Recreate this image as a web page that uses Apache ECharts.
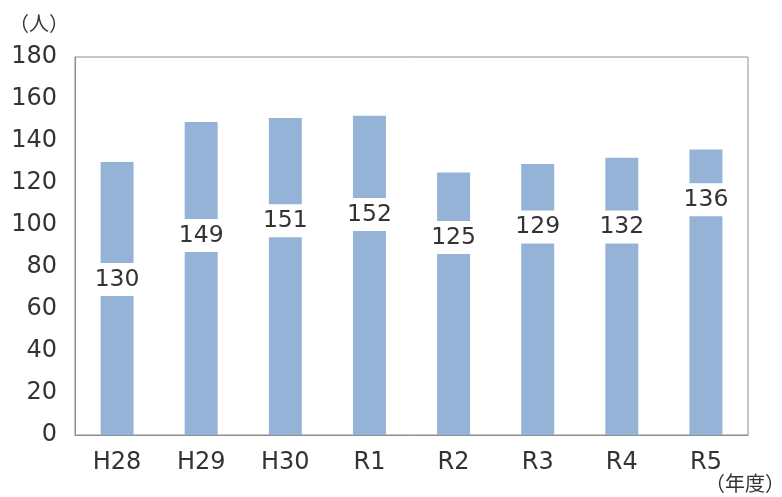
<!DOCTYPE html>
<html>
<head>
<meta charset="utf-8">
<script src="https://cdn.jsdelivr.net/npm/echarts@6/dist/echarts.min.js"></script>
<style>html,body{margin:0;padding:0;background:#fff}#c{width:782px;height:497px}</style>
</head>
<body>
<div id="c"></div>
<script>
const categories = ['H28', 'H29', 'H30', 'R1', 'R2', 'R3', 'R4', 'R5'];
const totals = [130, 149, 151, 152, 125, 129, 132, 136];
const lowerPart = [74, 95, 102, 105, 94, 99, 99, 112];
const upperPart = totals.map((t, i) => t - lowerPart[i]);
const yTicks = { min: 0, max: 180, interval: 20 };

const chart = echarts.init(document.getElementById('c'));
const barColor = '#95b3d7';
const font = 'DejaVu Sans';
chart.setOption({
  animation: false,
  grid: { left: 75, right: 34, top: 57, bottom: 62, show: true, borderColor: '#8e8e8e', borderWidth: 1, backgroundColor: 'transparent' },
  xAxis: {
    type: 'category', data: categories,
    axisLine: { show: true, lineStyle: { color: '#8e8e8e' } },
    axisTick: { show: false },
    axisLabel: { fontFamily: font, fontSize: 24, color: '#333', margin: 16 }
  },
  yAxis: {
    type: 'value', min: yTicks.min, max: yTicks.max, interval: yTicks.interval,
    splitLine: { show: false },
    axisLine: { show: true, lineStyle: { color: '#8e8e8e' } },
    axisTick: { show: false },
    axisLabel: { fontFamily: font, fontSize: 24, color: '#333', margin: 18 }
  },
  series: [
    { type: 'bar', stack: 'a', data: lowerPart, barWidth: 33, itemStyle: { color: barColor }, silent: true },
    { type: 'bar', stack: 'a', data: upperPart, barWidth: 33, itemStyle: { color: barColor }, silent: true,
      label: {
        show: true, position: 'insideBottom', distance: 0, offset: [0, 16.5],
        formatter: p => String(totals[p.dataIndex]),
        fontFamily: font, fontSize: 23.5, color: '#333',
        backgroundColor: '#ffffff', padding: [5, 8], lineHeight: 23
      }
    }
  ],
  graphic: [
    { type: 'text', left: 9, top: 13, style: { text: '（人）', font: '20px "Noto Sans CJK JP"', fill: '#333' } },
    { type: 'text', left: 705, top: 473, style: { text: '（年度）', font: '20px "Noto Sans CJK JP"', fill: '#333' } }
  ]
});
</script>
</body>
</html>
